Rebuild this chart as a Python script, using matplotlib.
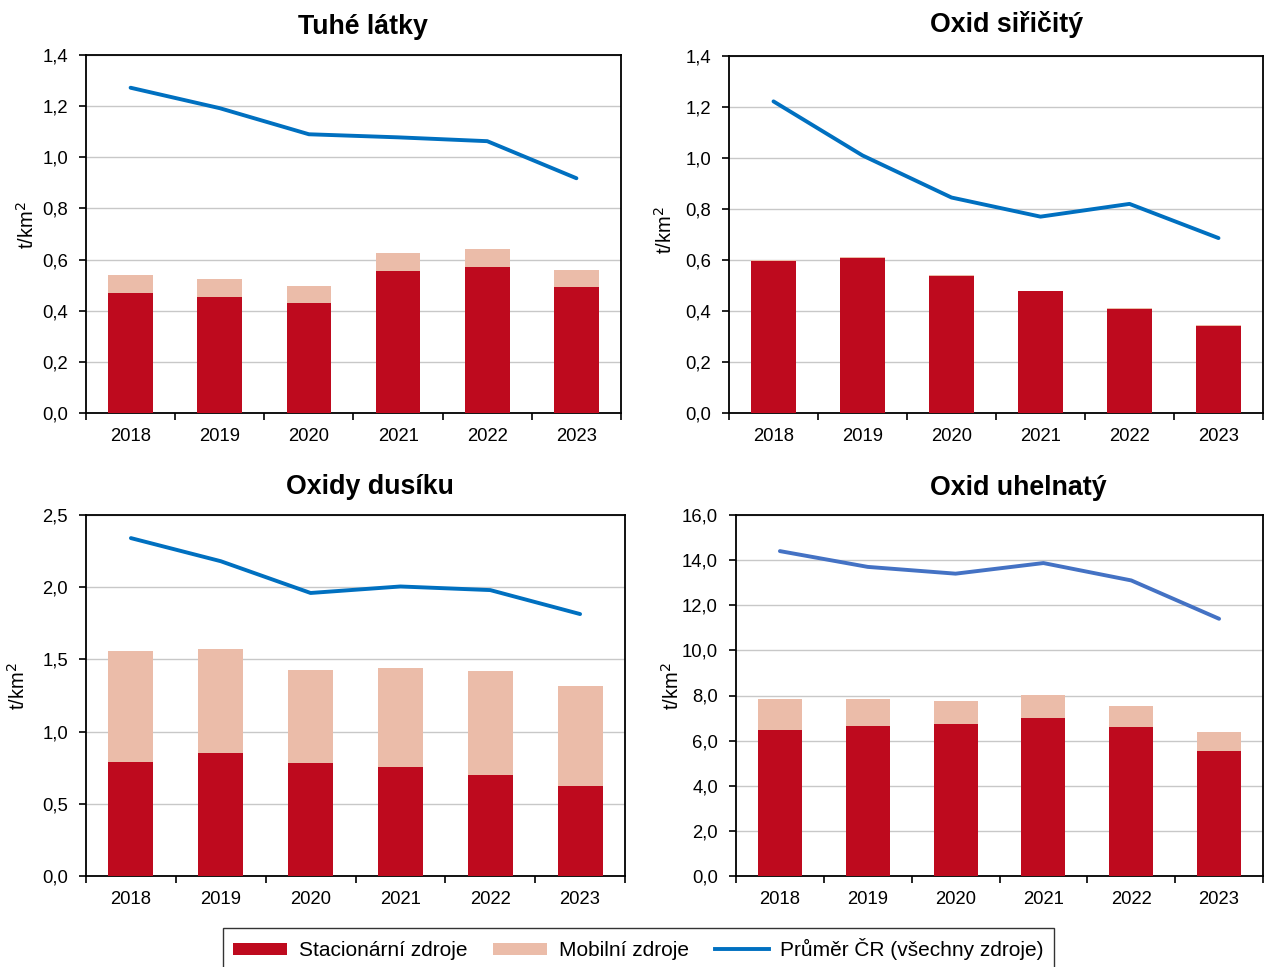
import matplotlib
matplotlib.use("Agg")
import matplotlib.pyplot as plt
from matplotlib.ticker import FuncFormatter, FixedLocator, MultipleLocator
from matplotlib.patches import Patch
from matplotlib.lines import Line2D

plt.rcParams['font.family'] = ['Liberation Sans', 'DejaVu Sans']

years = ['2018', '2019', '2020', '2021', '2022', '2023']

# Tuhé látky
tzl_stat = [0.470, 0.455, 0.432, 0.556, 0.572, 0.491]
tzl_mob = [0.071, 0.070, 0.065, 0.071, 0.070, 0.067]
tzl_avg = [1.272, 1.192, 1.090, 1.078, 1.063, 0.918]

# Oxid siřičitý
so2_stat = [0.598, 0.607, 0.539, 0.477, 0.409, 0.341]
so2_mob = [0.003, 0.003, 0.003, 0.003, 0.003, 0.003]
so2_avg = [1.222, 1.010, 0.845, 0.770, 0.820, 0.686]

# Oxidy dusíku
nox_stat = [0.790, 0.852, 0.780, 0.755, 0.700, 0.623]
nox_mob = [0.768, 0.720, 0.647, 0.685, 0.720, 0.693]
nox_avg = [2.340, 2.180, 1.960, 2.005, 1.980, 1.814]

# Oxid uhelnatý
co_stat = [6.48, 6.65, 6.72, 7.00, 6.60, 5.52]
co_mob = [1.38, 1.18, 1.03, 1.02, 0.92, 0.88]
co_avg = [14.40, 13.70, 13.40, 13.87, 13.10, 11.40]

RED = '#BE0A1E'
PINK = '#EBBCA9'
BLUE = '#0070C0'
BLUE_CO = '#4472C4'
FS = 13.3

W, H = 1264, 967
fig = plt.figure(figsize=(W / 100, H / 100), dpi=100)


def px_axes(l, t, r, b):
    return fig.add_axes([l / W, 1 - b / H, (r - l) / W, (b - t) / H])


def comma(v, pos):
    return f'{v:.1f}'.replace('.', ',')


def panel(ax, stat, mob, avg, ymax, ystep, lc, bw=0.5):
    x = list(range(len(years)))
    ax.bar(x, stat, width=bw, color=RED, zorder=3)
    ax.bar(x, mob, width=bw, bottom=stat, color=PINK, zorder=3)
    ax.plot(x, avg, color=lc, lw=2.8, zorder=4, solid_capstyle='round')
    ax.set_xlim(-0.5, len(years) - 0.5)
    ax.set_ylim(0, ymax)
    ax.yaxis.set_major_locator(MultipleLocator(ystep))
    ax.yaxis.set_major_formatter(FuncFormatter(comma))
    ax.set_xticks(x)
    ax.set_xticklabels(years)
    ax.xaxis.set_minor_locator(FixedLocator([i - 0.5 for i in range(len(years) + 1)]))
    ax.tick_params(axis='x', which='major', length=0, pad=11, labelsize=FS)
    ax.tick_params(axis='x', which='minor', length=5, width=1.2, direction='out')
    ax.tick_params(axis='y', length=5, width=1.2, direction='out', labelsize=FS, pad=8)
    ax.grid(axis='y', color='#C8C8C8', lw=1.0, zorder=0)
    ax.set_axisbelow(True)
    for s in ax.spines.values():
        s.set_color('black')
        s.set_linewidth(1.3)


ax1 = px_axes(86, 55, 621, 413)
panel(ax1, tzl_stat, tzl_mob, tzl_avg, 1.4, 0.2, BLUE)
ax2 = px_axes(729, 56, 1263, 413)
panel(ax2, so2_stat, so2_mob, so2_avg, 1.4, 0.2, BLUE)
ax3 = px_axes(86, 515, 625, 876)
panel(ax3, nox_stat, nox_mob, nox_avg, 2.5, 0.5, BLUE)
ax4 = px_axes(736, 515, 1263, 876)
panel(ax4, co_stat, co_mob, co_avg, 16.0, 2.0, BLUE_CO)

titles = [('Tuhé látky', 363, 27), ('Oxid siřičitý', 1007, 25),
          ('Oxidy dusíku', 370, 487), ('Oxid uhelnatý', 1018, 488)]
for t, x, y in titles:
    fig.text(x / W, 1 - y / H, t, ha='center', va='center',
             fontsize=19.3, fontweight='bold')

ylabels = [(27, 225), (665, 230), (18, 686), (672, 686)]
for x, y in ylabels:
    fig.text(x / W, 1 - y / H, 't/km$^2$', ha='center', va='center',
             rotation=90, fontsize=14.5)

handles = [Patch(facecolor=RED, edgecolor='none'),
           Patch(facecolor=PINK, edgecolor='none'),
           Line2D([0], [0], color=BLUE, lw=2.8)]
labels = ['Stacionární zdroje', 'Mobilní zdroje', 'Průměr ČR (všechny zdroje)']
leg = fig.legend(handles, labels, loc='center', ncol=3,
                 bbox_to_anchor=(638.5 / W, 1 - 949 / H),
                 fontsize=15, frameon=True, fancybox=False,
                 edgecolor='black', borderpad=0.5, handlelength=2.6,
                 handleheight=0.5, handletextpad=0.55, columnspacing=1.25)
leg.get_frame().set_linewidth(1.0)

fig.savefig('out.png', dpi=100, facecolor='white')
